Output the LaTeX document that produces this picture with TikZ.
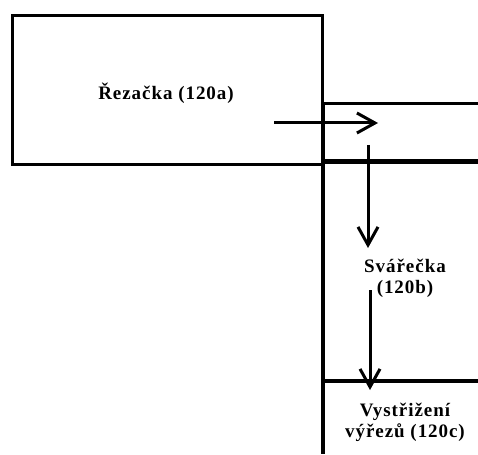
\documentclass[tikz,border=0pt]{standalone}
\usepackage{fontspec}
\setmainfont{Liberation Serif}[LetterSpace=5]
\usetikzlibrary{arrows.meta}
\tikzset{
  lbl/.style={font=\fontsize{19}{21}\selectfont\bfseries, align=center, inner sep=0pt},
  flow/.style={line width=3pt, -{Straight Barb[length=18pt,width=20pt,line width=3pt]}},
}
\begin{document}
\begin{tikzpicture}[x=1pt,y=-1pt]
\useasboundingbox (0,0) rectangle (478,454);
% cutter box
\node[draw, line width=3pt, minimum width=310pt, minimum height=149pt, inner sep=0pt, anchor=north west] (cut) at (10.5,14.5) {};
\node[lbl] (cuttxt) at (166,93) {Řezačka (120a)};
% lane lines
\coordinate (v0) at (323,103.5);
\coordinate (v1) at (323,454);
\coordinate (h0) at (478,103.5);
\coordinate (h1a) at (323,161.5);
\coordinate (h1b) at (478,161.5);
\coordinate (h2a) at (323,381);
\coordinate (h2b) at (478,381);
\draw[line width=3pt] (v0) -- (h0);
\draw[line width=4.5pt] (h1a) -- (h1b);
\draw[line width=4pt] (h2a) -- (h2b);
\draw[line width=4pt] (v0) -- (v1);
% labels
\node[lbl] (weld) at (405,278) {Svářečka\\(120b)};
\node[lbl] (trim) at (405,422) {Vystřižení\\výřezů (120c)};
% arrows
\coordinate (a1s) at (274,123);
\coordinate (a1e) at (378,123);
\coordinate (a2s) at (368,145);
\coordinate (a2e) at (368,248);
\coordinate (a3s) at (370,290);
\coordinate (a3e) at (370,390);
\draw[flow] (a1s) -- (a1e);
\draw[flow] (a2s) -- (a2e);
\draw[flow] (a3s) -- (a3e);
\end{tikzpicture}
\end{document}
